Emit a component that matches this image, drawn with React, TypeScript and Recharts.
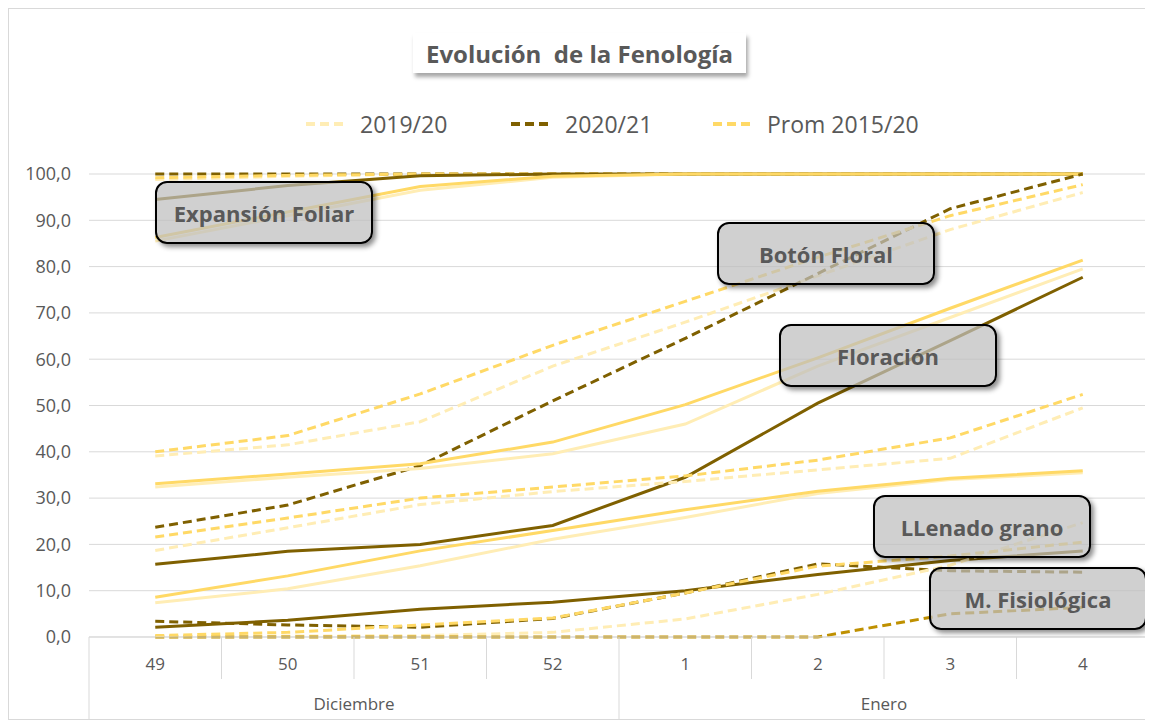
import React from 'react';
import { LineChart, Line, XAxis, YAxis, CartesianGrid } from 'recharts';

// categories
const weeks = ['49', '50', '51', '52', '1', '2', '3', '4'];
const months = ['Diciembre', 'Diciembre', 'Diciembre', 'Diciembre', 'Enero', 'Enero', 'Enero', 'Enero'];
const yTicks = [0, 10, 20, 30, 40, 50, 60, 70, 80, 90, 100];

// stage at the top (dashed)
const emergencia1920 = [98.8, 99.5, 100, 100, 100, 100, 100, 100];
const emergencia2021 = [100, 100, 100, 100, 100, 100, 100, 100];
const emergenciaProm = [99.2, 99.7, 100, 100, 100, 100, 100, 100];

// Expansión Foliar (solid)
const expansion1920 = [85.5, 91, 96.5, 99.3, 100, 100, 100, 100];
const expansion2021 = [94.5, 97.5, 99.6, 100, 100, 100, 100, 100];
const expansionProm = [86.3, 91.8, 97.3, 99.5, 100, 100, 100, 100];

// Botón Floral (dashed)
const boton1920 = [39.1, 41.5, 46.5, 58.5, 68, 78, 88, 96];
const boton2021 = [23.7, 28.5, 37, 51, 64.5, 78.5, 92.5, 100];
const botonProm = [40, 43.5, 52.5, 63, 72.5, 82, 91, 97.7];

// Floración (solid)
const floracion1920 = [32.4, 34.5, 36.4, 39.6, 46, 58.5, 69, 79.5];
const floracion2021 = [15.7, 18.5, 20, 24.1, 34.5, 50.5, 64, 77.7];
const floracionProm = [33.1, 35.2, 37.4, 42.1, 50.2, 60.3, 71, 81.4];

// intermediate stage (dashed)
const cuaje1920 = [18.7, 23.6, 28.6, 31.4, 33.6, 36.1, 38.6, 49.5];
const cuaje2021 = [3.4, 2.6, 2.1, 4.0, 9.5, 15.8, 14.3, 14.0];
const cuajeProm = [21.6, 25.7, 30, 32.4, 34.8, 38.2, 43, 52.4];

// LLenado grano (solid)
const llenado1920 = [7.4, 10.4, 15.4, 21.1, 25.8, 31, 34, 35.5];
const llenado2021 = [2.1, 3.6, 6.0, 7.5, 10, 13.5, 16.5, 18.6];
const llenadoProm = [8.6, 13.2, 18.6, 23, 27.5, 31.5, 34.3, 35.9];

// M. Fisiológica (dashed)
const madurez1920 = [0, 0.2, 0.3, 1.0, 3.9, 9.2, 15.5, 24.7];
const madurez2021 = [0, 0, 0, 0, 0, 0, 5, 6.4];
const madurezProm = [0.3, 1.0, 2.6, 4.1, 9.5, 15.3, 17.5, 20.5];

const PALE = '#FFEDB5';
const DARK = '#7F6000';
const GOLD = '#FFD966';
const MID = '#BF9000';
const TEXT = '#595959';
const GRID = '#D9D9D9';
const FONT = '"Open Sans", "Liberation Sans", sans-serif';

const series = [
  { key: 'emer1920', values: emergencia1920, color: PALE, dashed: true },
  { key: 'emer2021', values: emergencia2021, color: DARK, dashed: true },
  { key: 'emerProm', values: emergenciaProm, color: GOLD, dashed: true },
  { key: 'exp1920', values: expansion1920, color: PALE, dashed: false },
  { key: 'exp2021', values: expansion2021, color: DARK, dashed: false },
  { key: 'expProm', values: expansionProm, color: GOLD, dashed: false },
  { key: 'bot1920', values: boton1920, color: PALE, dashed: true },
  { key: 'bot2021', values: boton2021, color: DARK, dashed: true },
  { key: 'botProm', values: botonProm, color: GOLD, dashed: true },
  { key: 'flo1920', values: floracion1920, color: PALE, dashed: false },
  { key: 'flo2021', values: floracion2021, color: DARK, dashed: false },
  { key: 'floProm', values: floracionProm, color: GOLD, dashed: false },
  { key: 'cua1920', values: cuaje1920, color: PALE, dashed: true },
  { key: 'cua2021', values: cuaje2021, color: DARK, dashed: true },
  { key: 'cuaProm', values: cuajeProm, color: GOLD, dashed: true },
  { key: 'lle1920', values: llenado1920, color: PALE, dashed: false },
  { key: 'lle2021', values: llenado2021, color: DARK, dashed: false },
  { key: 'lleProm', values: llenadoProm, color: GOLD, dashed: false },
  { key: 'mad1920', values: madurez1920, color: PALE, dashed: true },
  { key: 'mad2021', values: madurez2021, color: MID, dashed: true },
  { key: 'madProm', values: madurezProm, color: GOLD, dashed: true },
];

const data = weeks.map((week, i) => {
  const row: Record<string, string | number> = { week, month: months[i] };
  series.forEach((s) => {
    row[s.key] = s.values[i];
  });
  return row;
});

const legendItems = [
  { label: '2019/20', color: PALE, left: 297 },
  { label: '2020/21', color: DARK, left: 502 },
  { label: 'Prom 2015/20', color: GOLD, left: 704 },
];

const stageLabels = [
  { text: 'Expansión Foliar', left: 146, top: 172 },
  { text: 'Botón Floral', left: 708, top: 213 },
  { text: 'Floración', left: 770, top: 315 },
  { text: 'LLenado grano', left: 864, top: 486 },
  { text: 'M. Fisiológica', left: 920, top: 558 },
];

const W = 1145;
const H = 712;
const Y_AXIS_W = 80;
const MARGIN = { top: 165, right: 3, left: 0, bottom: 0 };
const WEEK_ROW = 42;
const MONTH_ROW = 40;
const BAND = (W - 2 - MARGIN.left - MARGIN.right - Y_AXIS_W) / weeks.length;
const AXIS_TOP = H - 2 - WEEK_ROW - MONTH_ROW;
const PAD = { left: BAND / 2, right: BAND / 2 };

const WeekTick = (props: any) => {
  const { x, payload, index } = props;
  const i = index ?? payload.index;
  const isMonthStart = i === 0 || months[i] !== months[i - 1];
  const isLast = i === weeks.length - 1;
  return (
    <g>
      <line
        x1={x - BAND / 2}
        x2={x - BAND / 2}
        y1={AXIS_TOP}
        y2={isMonthStart ? H : AXIS_TOP + WEEK_ROW}
        stroke={GRID}
      />
      {isLast && (
        <line x1={x + BAND / 2} x2={x + BAND / 2} y1={AXIS_TOP} y2={H} stroke={GRID} />
      )}
      <text x={x} y={AXIS_TOP + 33} textAnchor="middle" fill={TEXT} fontSize={17} fontFamily={FONT}>
        {payload.value}
      </text>
    </g>
  );
};

const MonthTick = (props: any) => {
  const { x, payload, index } = props;
  const i = index ?? payload.index;
  if (i > 0 && months[i] === months[i - 1]) return <g />;
  const span = months.filter((m) => m === months[i]).length;
  return (
    <text
      x={x + (BAND * (span - 1)) / 2}
      y={AXIS_TOP + WEEK_ROW + 31}
      textAnchor="middle"
      fill={TEXT}
      fontSize={17}
      fontFamily={FONT}
    >
      {months[i]}
    </text>
  );
};

export default function App() {
  return (
    <div style={{ position: 'relative', width: W, height: H, fontFamily: FONT, boxSizing: 'border-box', border: `1px solid ${GRID}` }}>
      <LineChart width={W - 2} height={H - 2} data={data} margin={MARGIN}>
        <CartesianGrid vertical={false} stroke={GRID} />
        <XAxis
          dataKey="week"
          height={WEEK_ROW}
          padding={PAD}
          axisLine={{ stroke: GRID }}
          tickLine={false}
          tick={<WeekTick />}
          interval={0}
        />
        <XAxis
          xAxisId="month"
          dataKey="week"
          height={MONTH_ROW}
          padding={PAD}
          axisLine={false}
          tickLine={false}
          tick={<MonthTick />}
          interval={0}
        />
        <YAxis
          width={Y_AXIS_W}
          domain={[0, 100]}
          ticks={yTicks}
          axisLine={false}
          tickLine={false}
          tickMargin={12}
          tick={{ fill: TEXT, fontSize: 18, fontFamily: FONT }}
          tickFormatter={(v: number) => v.toFixed(1).replace('.', ',')}
        />
        {series.map((s) => (
          <Line
            key={s.key}
            type="linear"
            dataKey={s.key}
            stroke={s.color}
            strokeWidth={3}
            strokeDasharray={s.dashed ? '9 5' : undefined}
            dot={false}
            activeDot={false}
            isAnimationActive={false}
          />
        ))}
      </LineChart>

      <div
        style={{
          position: 'absolute', left: 404, top: 24, width: 333, height: 40,
          background: '#fff', boxShadow: '2px 4px 4px rgba(0,0,0,0.35)',
          display: 'flex', alignItems: 'center', justifyContent: 'center',
          color: TEXT, fontWeight: 700, fontSize: 24, whiteSpace: 'pre',
        }}
      >
        Evolución  de la Fenología
      </div>

      {legendItems.map((it) => (
        <div key={it.label} style={{ position: 'absolute', left: it.left, top: 99, display: 'flex', alignItems: 'center', color: TEXT, fontSize: 23 }}>
          <svg width={42} height={6} style={{ marginRight: 12 }}>
            <line x1={0} x2={42} y1={3} y2={3} stroke={it.color} strokeWidth={4} strokeDasharray="9 5" />
          </svg>
          {it.label}
        </div>
      ))}

      {stageLabels.map((l) => (
        <div
          key={l.text}
          style={{
            position: 'absolute', left: l.left, top: l.top, width: 218, height: 63,
            boxSizing: 'border-box', border: '2px solid #000', borderRadius: 12,
            background: 'rgba(190,190,190,0.72)', boxShadow: '3px 3px 5px rgba(0,0,0,0.45)',
            display: 'flex', alignItems: 'center', justifyContent: 'center',
            color: TEXT, fontWeight: 700, fontSize: 22,
          }}
        >
          {l.text}
        </div>
      ))}
    </div>
  );
}
